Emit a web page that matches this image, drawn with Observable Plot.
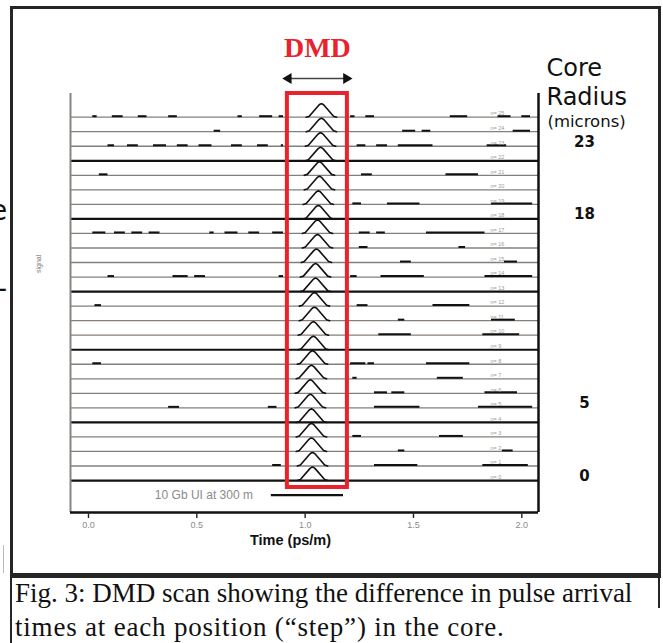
<!DOCTYPE html>
<html>
<head>
<meta charset="utf-8">
<script src="https://cdn.jsdelivr.net/npm/d3@7"></script>
<script src="https://cdn.jsdelivr.net/npm/@observablehq/plot@0.6"></script>
<style>
  html, body { margin: 0; padding: 0; background: #fff; }
  #wrap { position: relative; width: 663px; height: 643px; overflow: hidden; background: #fff; }
  #chart { position: absolute; left: 0; top: 0; }
  .abs { position: absolute; white-space: nowrap; }
</style>
</head>
<body>
<div id="wrap">
  <div id="chart"></div>
  <div class="abs" style="left:10px;top:6px;width:651px;height:570px;border:3px solid #262626;box-sizing:border-box;"></div>
  <div class="abs" style="left:-10px;top:194px;font:28px 'DejaVu Sans';color:#111;">e</div>
  <div class="abs" style="left:-3px;top:272px;font:28px 'DejaVu Sans';color:#111;">-</div>
  <div class="abs" style="left:3px;top:545px;width:1px;height:28px;background:#bbb;"></div>
  <div class="abs" style="left:10px;top:576px;width:651px;height:70px;border-top:2px solid #262626;border-left:2px solid #262626;box-sizing:border-box;"></div>
  <div class="abs" style="left:658px;top:576px;width:2px;height:32px;background:#262626;"></div>
  <div class="abs" id="caption" style="left:15px;top:576px;font:27px 'Liberation Serif';line-height:34px;color:#111;"></div>
</div>
<script>
// ---- data ----
const steps = [0,1,2,3,4,5,6,7,8,9,10,11,12,13,14,15,16,17,18,19,20,21,22,23,24,25];
const stepLabels = steps.map(n => "n= " + n);
// time (ps/m) of each pulse peak, step 0 .. 25
const pulsePeak = [1.034,1.034,1.029,1.029,1.029,1.024,1.024,1.029,1.034,1.038,1.038,1.043,1.043,
                   1.048,1.048,1.052,1.057,1.057,1.061,1.061,1.066,1.066,1.071,1.071,1.075,1.075];
const pulseHeight = 0.93;      // in step units
const pulseHalfWidth = 0.07;   // ps/m, half width at the foot
// pulse outline as (fraction of half width, fraction of height)
const pulseShape = [[-1,0],[-0.8,0.07],[-0.16,0.9],[-0.06,0.98],[0,1],[0.06,0.98],[0.16,0.9],[0.8,0.07],[1,0]];
// short noise dashes on the traces: [step, t1, t2]
const noise = [
  [25,0.02,0.04],[25,0.11,0.16],[25,0.23,0.27],[25,0.37,0.41],[25,0.69,0.71],[25,0.79,0.85],[25,0.88,0.90],
  [25,1.21,1.23],[25,1.28,1.32],[25,1.67,1.75],[25,1.89,1.95],[25,2.00,2.04],
  [24,0.58,0.61],[24,1.45,1.51],[24,1.54,1.58],[24,1.96,2.04],
  [23,0.09,0.12],[23,0.18,0.23],[23,0.30,0.36],[23,0.41,0.46],[23,0.51,0.57],[23,0.66,0.71],[23,0.78,0.83],
  [23,0.89,0.90],[23,1.24,1.28],[23,1.33,1.38],[23,1.43,1.59],[23,1.84,1.93],
  [21,0.05,0.09],[21,1.26,1.31],[21,1.65,1.80],
  [19,1.22,1.26],[19,1.38,1.53],[19,1.86,2.05],
  [17,0.02,0.08],[17,0.12,0.17],[17,0.20,0.25],[17,0.28,0.33],[17,0.56,0.58],[17,0.63,0.69],[17,0.74,0.79],
  [17,0.85,0.90],[17,1.25,1.30],[17,1.33,1.37],[17,1.56,1.83],
  [16,1.25,1.29],[16,1.71,1.74],
  [15,1.44,1.49],[15,1.92,1.98],
  [14,0.09,0.12],[14,0.39,0.46],[14,0.49,0.54],[14,0.88,0.90],[14,1.21,1.24],[14,1.35,1.55],[14,1.83,2.05],
  [12,0.03,0.06],[12,1.24,1.29],[12,1.59,1.76],
  [11,1.43,1.46],[11,1.86,1.97],
  [10,1.34,1.49],[10,1.82,1.99],
  [8,0.02,0.06],[8,1.21,1.28],[8,1.29,1.32],[8,1.56,1.76],
  [7,1.22,1.24],[7,1.61,1.73],
  [6,1.32,1.38],[6,1.40,1.46],[6,1.83,1.98],
  [5,0.37,0.42],[5,0.83,0.87],[5,1.32,1.53],[5,1.80,2.05],
  [3,1.22,1.26],[3,1.62,1.73],
  [2,1.43,1.46],[2,1.91,1.96],
  [1,0.85,0.89],[1,1.32,1.52],[1,1.82,2.03]
];
const coreSteps = [23, 18, 5, 0];
const coreLabels = ["23", "18", "5", "0"];
const xTicks = [0, 0.5, 1.0, 1.5, 2.0];
const dmdWindow = [0.918, 1.195];
const uiBar = [0.844, 1.177];
const uiStep = -1;
const uiText = "10 Gb UI at 300 m";
const xLabel = "Time (ps/m)";
const yLabel = "signal";
const titleLines = ["Core", "Radius", "(microns)"];
const dmdTitle = "DMD";
const captionLines = ["Fig. 3: DMD scan showing the difference in pulse arrival",
                      "times at each position (\u201cstep\u201d) in the core."];

// ---- style ----
const xDomain = [-0.083, 2.077];
const yDomain = [-2.2, 26.63];
const boldSteps = new Set([22, 18, 13, 9, 4, 0]);
const sans = "'DejaVu Sans', Verdana, sans-serif";

// ---- build tables ----
const rows = steps.map((n, i) => ({n, label: stepLabels[i], bold: boldSteps.has(n)}));
const pulses = steps.flatMap((n, i) => pulseShape.map(([u, v]) => ({
  n, x: pulsePeak[i] + u * pulseHalfWidth, y: n + v * pulseHeight
})));
const noiseRows = noise.map(([n, t1, t2]) => ({n, t1, t2}));
const coreRows = coreSteps.map((n, i) => ({n, label: coreLabels[i]}));
const dmdMid = (dmdWindow[0] + dmdWindow[1]) / 2;

const chart = Plot.plot({
  width: 663,
  height: 575,
  marginLeft: 70,
  marginRight: 125,
  marginTop: 93,
  marginBottom: 63,
  x: {domain: xDomain, axis: null},
  y: {domain: yDomain, axis: null},
  style: {fontFamily: "'Liberation Sans', Arial, sans-serif", background: "transparent", overflow: "visible"},
  marks: [
    // baselines
    Plot.ruleY(rows.filter(d => !d.bold), {y: "n", stroke: "#847f7a", strokeWidth: 1.3}),
    Plot.ruleY(rows.filter(d => d.bold), {y: "n", stroke: "#111", strokeWidth: 2.2}),
    // noise dashes
    Plot.ruleY(noiseRows, {y: "n", x1: "t1", x2: "t2", stroke: "#111", strokeWidth: 2, dy: -1}),
    // pulses
    Plot.line(pulses, {x: "x", y: "y", z: "n", stroke: "#111", strokeWidth: 1.6, curve: "linear", strokeLinejoin: "round"}),
    // step labels
    Plot.text(rows, {x: 1.855, y: "n", text: "label", textAnchor: "start", dy: -3.5, fontSize: 5.5, fill: "#9a9a9a"}),
    // frame lines
    Plot.ruleX([xDomain[0]], {stroke: "#8a8580", strokeWidth: 2}),
    Plot.ruleX([xDomain[1]], {stroke: "#111", strokeWidth: 2.5}),
    Plot.ruleY([yDomain[0]], {stroke: "#111", strokeWidth: 2.5}),
    // x axis
    Plot.axisX({ticks: xTicks, tickFormat: d3.format(".1f"), tickSize: 6, tickPadding: 3,
                stroke: "#222", strokeWidth: 1.4, fill: "#8a8a8a", fontSize: 9, label: null}),
    Plot.text([xLabel], {frameAnchor: "bottom", lineAnchor: "middle", dx: -14, dy: 28, fontSize: 14.5, fontWeight: "bold", fill: "#111"}),
    Plot.text([yLabel], {frameAnchor: "left", lineAnchor: "middle", dx: -32, dy: -30, rotate: -90, fontSize: 7, fill: "#7a7a7a"}),
    // UI bar
    Plot.text([uiText], {x: uiBar[0] - 0.085, y: uiStep, textAnchor: "end", fontSize: 12, fill: "#8a8a8a", letterSpacing: 1.7}),
    Plot.ruleY([uiStep], {x1: uiBar[0], x2: uiBar[1], stroke: "#111", strokeWidth: 2.2}),
    // DMD window
    Plot.rect([dmdWindow], {x1: d => d[0], x2: d => d[1], y1: -0.48, y2: yDomain[1], fill: "none", stroke: "#e8232b", strokeWidth: 4}),
    Plot.ruleY([yDomain[1]], {x1: dmdWindow[0] + 0.01, x2: dmdWindow[1] - 0.01, dy: -15, stroke: "#444", strokeWidth: 1.5}),
    Plot.dot([dmdWindow[0] + 0.005, dmdWindow[1] - 0.005], {x: d => d, y: yDomain[1], dy: -15, symbol: "triangle", r: 4,
              rotate: (d, i) => i === 0 ? -90 : 90, fill: "#111", stroke: "none"}),
    Plot.text([dmdTitle], {x: dmdMid, frameAnchor: "top", lineAnchor: "middle", dy: -45, fontSize: 28, fontWeight: "bold",
              fontFamily: "'Liberation Serif', 'Times New Roman', serif", fill: "#e8232b"}),
    // core radius title and values
    Plot.text([titleLines[0]], {frameAnchor: "top-right", lineAnchor: "middle", dx: 8, dy: -25, textAnchor: "start", fontSize: 24, fontFamily: sans, fill: "#111"}),
    Plot.text([titleLines[1]], {frameAnchor: "top-right", lineAnchor: "middle", dx: 8, dy: 4, textAnchor: "start", fontSize: 24, fontFamily: sans, fill: "#111"}),
    Plot.text([titleLines[2]], {frameAnchor: "top-right", lineAnchor: "middle", dx: 9, dy: 28, textAnchor: "start", fontSize: 16.5, fontFamily: sans, fill: "#111"}),
    Plot.text(coreRows, {x: xDomain[1], y: "n", text: "label", dx: 46, dy: -4.5, fontSize: 15, fontWeight: "bold",
              fontFamily: sans, fill: "#111"})
  ]
});
document.getElementById("chart").appendChild(chart);
document.getElementById("caption").innerHTML = captionLines[0] + "<br><span style=\"letter-spacing:0.8px\">" + captionLines[1] + "</span>";
</script>
</body>
</html>
